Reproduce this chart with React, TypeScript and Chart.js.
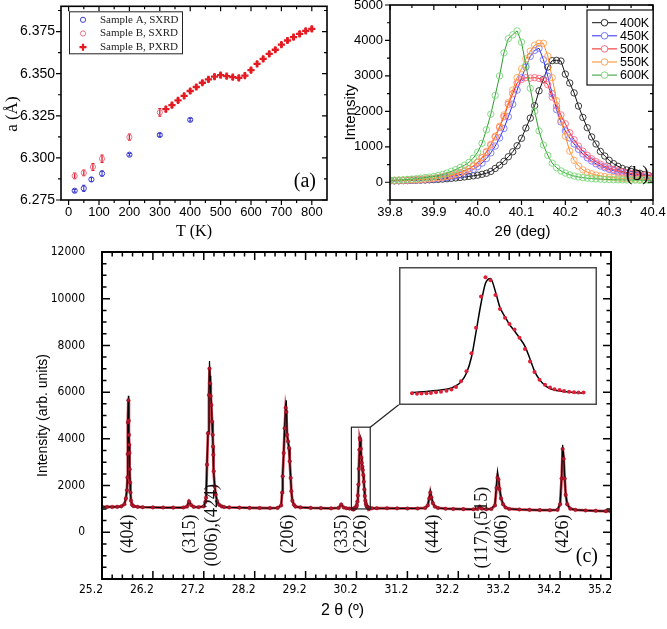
import React, { useEffect, useRef } from 'react';
import { Chart, registerables } from 'chart.js';

Chart.register(...registerables);

const SANS = '"Liberation Sans", Arial, Helvetica, sans-serif';
const SERIF = '"Liberation Serif", "Times New Roman", Times, serif';
const COND = '"DejaVu Sans Condensed", "Liberation Sans Narrow", "Liberation Sans", Arial, sans-serif';

/* ---------------- panel (a): lattice parameter vs T ---------------- */
const tempTicks = [0, 100, 200, 300, 400, 500, 600, 700, 800];
const latticeTicks = [6.275, 6.3, 6.325, 6.35, 6.375];

const sampleASxrdT = [20, 50, 75, 110, 200, 300, 400];
const sampleASxrdA = [6.2805, 6.2819, 6.2872, 6.2907, 6.3019, 6.3136, 6.3226];
const sampleASxrdErr = [0.0008, 0.0018, 0.0012, 0.0016, 0.0008, 0.0008, 0.0008];

const sampleBSxrdT = [20, 50, 80, 110, 200, 300];
const sampleBSxrdA = [6.2893, 6.2911, 6.2946, 6.2995, 6.3123, 6.327];
const sampleBSxrdErr = [0.0016, 0.0016, 0.002, 0.0022, 0.0018, 0.0022];

const sampleBPxrdT = [320, 340, 360, 380, 400, 420, 440, 460, 480, 500, 520, 540, 560, 580, 600, 620, 640, 660, 680, 700, 720, 740, 760, 780, 800];
const sampleBPxrdA = [6.3289, 6.3313, 6.3342, 6.3368, 6.3397, 6.3421, 6.3446, 6.3466, 6.3482, 6.3491, 6.3485, 6.3479, 6.3475, 6.3489, 6.3521, 6.3558, 6.3588, 6.3617, 6.3642, 6.3672, 6.3697, 6.3717, 6.3736, 6.3754, 6.3766];
const sampleBPxrdErr = [0.0014, 0.0012, 0.0012, 0.0012, 0.0012, 0.0012, 0.0012, 0.0012, 0.0012, 0.0012, 0.0012, 0.0012, 0.0012, 0.0012, 0.0012, 0.0012, 0.0012, 0.0012, 0.0012, 0.0012, 0.0012, 0.0012, 0.0012, 0.0012, 0.0012];

/* ---------------- panel (b): peak profiles ---------------- */
const peakTicksX = [39.8, 39.9, 40.0, 40.1, 40.2, 40.3, 40.4];
const peakTicksY = [0, 1000, 2000, 3000, 4000, 5000];
const peakTheta = [39.8, 39.81, 39.82, 39.83, 39.84, 39.85, 39.86, 39.87, 39.88, 39.89, 39.9, 39.91, 39.92, 39.93, 39.94, 39.95, 39.96, 39.97, 39.98, 39.99, 40, 40.01, 40.02, 40.03, 40.04, 40.05, 40.06, 40.07, 40.08, 40.09, 40.1, 40.11, 40.12, 40.13, 40.14, 40.15, 40.16, 40.17, 40.18, 40.19, 40.2, 40.21, 40.22, 40.23, 40.24, 40.25, 40.26, 40.27, 40.28, 40.29, 40.3, 40.31, 40.32, 40.33, 40.34, 40.35, 40.36, 40.37, 40.38, 40.39, 40.4];
const int400K = [40, 42, 44, 47, 50, 53, 57, 61, 65, 70, 75, 82, 90, 100, 110, 122, 135, 150, 165, 182, 200, 225, 255, 305, 390, 480, 590, 720, 860, 1030, 1240, 1530, 1810, 2160, 2580, 2900, 3250, 3430, 3440, 3420, 3050, 2800, 2520, 2150, 1830, 1540, 1280, 1080, 870, 740, 620, 525, 450, 390, 347, 305, 275, 253, 215, 190, 170];
const int450K = [40, 42, 45, 48, 52, 56, 61, 67, 74, 82, 92, 104, 118, 135, 155, 180, 210, 250, 300, 360, 440, 540, 670, 830, 1020, 1250, 1520, 1850, 2200, 2600, 2950, 3250, 3550, 3720, 3780, 3460, 2990, 2500, 2050, 1700, 1450, 1250, 1080, 930, 800, 690, 600, 520, 460, 410, 365, 325, 290, 260, 235, 210, 190, 170, 150, 130, 115];
const int500K = [45, 48, 52, 56, 60, 66, 72, 80, 88, 100, 112, 128, 148, 170, 200, 235, 275, 320, 380, 460, 560, 690, 850, 1050, 1280, 1550, 1850, 2200, 2500, 2800, 2900, 2950, 2940, 2950, 2930, 2880, 2750, 2400, 2150, 1900, 1650, 1400, 1200, 1020, 880, 760, 660, 580, 510, 450, 400, 360, 325, 295, 270, 250, 230, 212, 195, 180, 165];
const int550K = [50, 52, 55, 58, 62, 67, 73, 80, 88, 98, 110, 125, 145, 168, 195, 230, 270, 320, 385, 465, 570, 700, 870, 1070, 1300, 1580, 1900, 2250, 2600, 2950, 3200, 3480, 3700, 3870, 3920, 3920, 3560, 2950, 2300, 1750, 1300, 880, 620, 460, 350, 285, 240, 205, 180, 160, 145, 132, 120, 110, 102, 95, 90, 85, 80, 77, 75];
const int600K = [55, 60, 65, 70, 80, 90, 100, 115, 130, 145, 165, 190, 220, 260, 310, 360, 420, 480, 560, 680, 850, 1100, 1480, 1920, 2450, 3000, 3650, 4050, 4160, 4270, 3950, 3300, 2650, 2000, 1450, 1050, 760, 540, 410, 320, 260, 210, 175, 150, 130, 115, 105, 95, 88, 82, 78, 74, 70, 67, 64, 62, 60, 58, 57, 56, 55];

const seriesB = [
  { label: '400K', values: int400K, line: '#111111', marker: '#2a2a2a' },
  { label: '450K', values: int450K, line: '#2b2bf0', marker: '#7474ff' },
  { label: '500K', values: int500K, line: '#f01e1e', marker: '#ff6a88' },
  { label: '550K', values: int550K, line: '#ff8a1e', marker: '#ffa45c' },
  { label: '600K', values: int600K, line: '#2e9e2e', marker: '#78d878' },
];

/* ---------------- panel (c): powder pattern ---------------- */
const patternTicksX = [25.2, 26.2, 27.2, 28.2, 29.2, 30.2, 31.2, 32.2, 33.2, 34.2, 35.2];
const patternTicksY = [0, 2000, 4000, 6000, 8000, 10000, 12000];
const patternTheta = [
  25.2, 25.3, 25.4, 25.5, 25.58, 25.64, 25.67, 25.69, 25.7, 25.705, 25.71, 25.718, 25.725, 25.73, 25.735, 25.74, 25.745, 25.752, 25.76, 25.77, 25.79, 25.82, 25.9,
  26.0, 26.2, 26.4, 26.6, 26.8, 26.87, 26.91, 26.95,
  27.0, 27.1, 27.2, 27.23, 27.245, 27.263, 27.283, 27.302, 27.312, 27.322, 27.336, 27.349, 27.362, 27.375, 27.381, 27.388, 27.395, 27.414, 27.434, 27.46, 27.5, 27.55, 27.6, 27.7, 27.9,
  28.1, 28.3, 28.5, 28.65, 28.72, 28.74, 28.75, 28.77, 28.789, 28.809, 28.822, 28.835, 28.855, 28.874, 28.888, 28.907, 28.92, 28.94, 28.97,
  29.0, 29.1, 29.3, 29.5, 29.7, 29.85, 29.9, 29.95,
  30.0, 30.06,
  30.118, 30.128, 30.137, 30.147, 30.156, 30.166, 30.176, 30.187, 30.197, 30.206, 30.216, 30.227, 30.237, 30.246, 30.256, 30.265, 30.275, 30.285, 30.294, 30.304, 30.313, 30.323, 30.333, 30.344, 30.354, 30.363, 30.373, 30.384, 30.394, 30.403, 30.413, 30.422, 30.432, 30.442, 30.451, 30.461,
  30.5, 30.6, 30.8, 31.0, 31.2, 31.4, 31.55, 31.6, 31.63, 31.65, 31.67, 31.7, 31.74, 31.8, 31.95,
  32.1, 32.3, 32.5, 32.58, 32.62, 32.66, 32.75, 32.85, 32.92, 32.95, 32.97, 32.99,
  33.01, 33.04, 33.08, 33.13, 33.2, 33.4, 33.6, 33.8,
  34.0, 34.15, 34.2, 34.23, 34.25, 34.27, 34.29, 34.31, 34.34, 34.4, 34.5, 34.7, 34.9,
  35.1, 35.2,
];
const patternObs = [
  1090, 1085, 1085, 1090, 1110, 1200, 1450, 1800, 2350, 3350, 4700, 5650, 4780, 4170, 3750, 3400, 2700, 2130, 1700, 1350, 1180, 1120, 1090,
  1075, 1065, 1060, 1055, 1060, 1100, 1320, 1170,
  1090, 1075, 1110, 1300, 1480, 2895, 4242, 5873, 7007, 6380, 5830, 5448, 4739, 4170, 3675, 3320, 2610, 1973, 1619, 1335, 1180, 1110, 1080, 1065, 1055,
  1045, 1040, 1035, 1045, 1150, 1700, 2400, 3390, 4454, 5334, 5150, 4171, 3888, 3604, 3037, 2328, 1761, 1350, 1180,
  1100, 1065, 1045, 1035, 1025, 1045, 1190, 1060,
  1030, 1015,
  1004, 988, 996, 1004, 1012, 1028, 1045, 1069, 1102, 1167, 1314, 1575, 2047, 2716, 3531, 4037, 3955, 3572, 3205, 2977, 2814, 2667, 2455, 2162, 1835, 1558, 1354, 1224, 1151, 1110, 1085, 1061, 1045, 1028, 1020, 1020,
  1030, 1030, 1030, 1025, 1020, 1020, 1040, 1150, 1450, 1700, 1500, 1250, 1100, 1040, 1010,
  1000, 990, 985, 1000, 1100, 1010, 990, 1000, 1150, 1900, 2337, 2250,
  1850, 1450, 1200, 1060, 1000, 975, 960, 950,
  945, 960, 1200, 2300, 3568, 3150, 2300, 1600, 1200, 1010, 960, 935, 920,
  905, 900,
];
const patternCalc = [
  1090, 1085, 1085, 1090, 1110, 1210, 1480, 1850, 2400, 3400, 4800, 5850, 4950, 4250, 3780, 3400, 2750, 2150, 1700, 1360, 1190, 1120, 1090,
  1075, 1065, 1060, 1055, 1060, 1110, 1340, 1170,
  1090, 1075, 1110, 1300, 1500, 2950, 4300, 6000, 7330, 6700, 5900, 5450, 4750, 4170, 3700, 3300, 2650, 2000, 1620, 1340, 1180, 1110, 1080, 1065, 1055,
  1045, 1040, 1035, 1045, 1160, 1750, 2450, 3450, 4500, 5450, 5650, 4300, 3900, 3600, 3050, 2350, 1780, 1360, 1180,
  1100, 1065, 1045, 1035, 1025, 1050, 1210, 1060,
  1030, 1020,
  1020, 1030, 1040, 1050, 1061, 1075, 1090, 1110, 1140, 1200, 1300, 1534, 1950, 2600, 3350, 3880, 4004, 3654, 3246, 3001, 2800, 2630, 2450, 2230, 1900, 1580, 1360, 1210, 1126, 1085, 1061, 1045, 1035, 1020, 1012, 1004,
  1025, 1030, 1030, 1025, 1020, 1020, 1040, 1160, 1500, 1770, 1550, 1260, 1100, 1040, 1010,
  1000, 990, 985, 1000, 1100, 1010, 990, 1000, 1200, 2000, 2620, 2350,
  1900, 1480, 1200, 1060, 1000, 975, 960, 950,
  945, 960, 1220, 2400, 3744, 3300, 2350, 1620, 1200, 1010, 960, 935, 920,
  905, 900,
];

const hklLabels = ['(404)', '(315)', '(006),(424)', '(206)', '(335)', '(226)', '(444)', '(117),(515)', '(406)', '(426)'];
const hklTheta = [25.72, 26.94, 27.36, 28.86, 29.93, 30.29, 31.7, 32.68, 33.06, 34.27];
const hklCenterCounts = [-70, -70, 300, -70, -70, -70, -70, 200, -70, -70];

// zoom window around the (226) reflection and the inset placed on the plot
const zoomRectTheta = [30.1, 30.47];
const zoomRectCounts = [1000, 4500];
const insetBoxTheta = [31.03, 34.92];
const insetBoxCounts = [5460, 11370];
const insetRangeTheta = [30.1, 30.48];
const insetRangeCounts = [800, 4200];

/* ---------------- helpers ---------------- */
const pts = (xs: number[], ys: number[]) => xs.map((x, i) => ({ x, y: ys[i] }));

function minorTicks(from: number, to: number, step: number, majors: number[]) {
  const out: number[] = [];
  const n = Math.round((to - from) / step);
  for (let i = 0; i <= n; i++) {
    const v = Math.round((from + i * step) * 1e6) / 1e6;
    if (!majors.some((m) => Math.abs(m - v) < step / 10)) out.push(v);
  }
  return out;
}

const fitAxis = (w: number | null, h: number | null) => (s: any) => {
  if (w !== null) s.width = w;
  if (h !== null) s.height = h;
  s.paddingTop = 0;
  s.paddingBottom = 0;
  s.paddingLeft = 0;
  s.paddingRight = 0;
};

function axis(o: any) {
  return {
    type: 'linear',
    min: o.min,
    max: o.max,
    afterFit: fitAxis(o.w ?? null, o.h ?? null),
    afterBuildTicks: (s: any) => {
      s.ticks = o.ticks.map((v: number) => ({ value: v }));
    },
    grid: { display: false, drawTicks: false },
    border: { display: false },
    title: { display: false },
    ticks: {
      color: '#000',
      font: o.font,
      padding: o.pad,
      maxRotation: 0,
      minRotation: 0,
      autoSkip: false,
      labelOffset: o.labelOffset || 0,
      callback: o.cb,
    },
  };
}

function framePlugin(o: any) {
  return {
    id: 'frame',
    afterDatasetsDraw(chart: any) {
      const { ctx, chartArea: a, scales } = chart;
      const sx = scales.x;
      const sy = scales.y;
      ctx.save();
      ctx.strokeStyle = '#000';
      ctx.lineWidth = o.tickLw;
      ctx.beginPath();
      const seg = (x1: number, y1: number, x2: number, y2: number) => {
        ctx.moveTo(x1, y1);
        ctx.lineTo(x2, y2);
      };
      const xs = (vals: number[], len: number) =>
        vals.forEach((v) => {
          const p = sx.getPixelForValue(v);
          seg(p, a.bottom, p, o.outBottom ? a.bottom + len : a.bottom - len);
          seg(p, a.top, p, a.top + len);
        });
      const ys = (vals: number[], len: number) =>
        vals.forEach((v) => {
          const p = sy.getPixelForValue(v);
          seg(a.left, p, o.outLeft ? a.left - len : a.left + len, p);
          seg(a.right, p, a.right - len, p);
        });
      xs(o.xMajor, o.major);
      xs(o.xMinor, o.minor);
      ys(o.yMajor, o.major);
      ys(o.yMinor, o.minor);
      ctx.stroke();
      ctx.lineWidth = o.lw;
      ctx.strokeRect(a.left, a.top, a.right - a.left, a.bottom - a.top);
      ctx.restore();
    },
  };
}

function titlesPlugin(o: any) {
  return {
    id: 'titles',
    afterDraw(chart: any) {
      const { ctx, chartArea: a } = chart;
      ctx.save();
      ctx.fillStyle = '#000';
      ctx.textAlign = 'center';
      ctx.textBaseline = 'middle';
      ctx.font = o.xFont;
      ctx.fillText(o.xText, (a.left + a.right) / 2 + o.xDx, o.xY);
      ctx.translate(o.yX, (a.top + a.bottom) / 2 + o.yDy);
      ctx.rotate(-Math.PI / 2);
      ctx.font = o.yFont;
      ctx.fillText(o.yText, 0, 0);
      ctx.restore();
      if (o.tag) {
        ctx.save();
        ctx.fillStyle = '#000';
        ctx.font = o.tagFont;
        ctx.textAlign = 'right';
        ctx.textBaseline = 'middle';
        ctx.fillText(o.tag, a.right - o.tagDx, a.bottom - o.tagDy);
        ctx.restore();
      }
    },
  };
}

const errorBarPlugin = {
  id: 'errorBars',
  beforeDatasetsDraw(chart: any) {
    const { ctx } = chart;
    const sy = chart.scales.y;
    chart.data.datasets.forEach((ds: any, i: number) => {
      if (!ds.errorBars) return;
      const meta = chart.getDatasetMeta(i);
      ctx.save();
      ctx.strokeStyle = ds.errorColor;
      ctx.lineWidth = ds.errorWidth || 1.2;
      ctx.beginPath();
      meta.data.forEach((el: any, j: number) => {
        const v = ds.data[j].y;
        const y1 = sy.getPixelForValue(v + ds.errorBars[j]);
        const y2 = sy.getPixelForValue(v - ds.errorBars[j]);
        ctx.moveTo(el.x, y1);
        ctx.lineTo(el.x, y2);
        ctx.moveTo(el.x - 1.5, y1);
        ctx.lineTo(el.x + 1.5, y1);
        ctx.moveTo(el.x - 1.5, y2);
        ctx.lineTo(el.x + 1.5, y2);
      });
      ctx.stroke();
      ctx.restore();
    });
  },
};

const legendAPlugin = {
  id: 'legendA',
  afterDraw(chart: any) {
    const { ctx, chartArea: a } = chart;
    const L = a.left + 8;
    const T = a.top + 5;
    const W = 113;
    const H = 42;
    ctx.save();
    ctx.fillStyle = '#fff';
    ctx.fillRect(L, T, W, H);
    ctx.strokeStyle = '#222';
    ctx.lineWidth = 1;
    ctx.strokeRect(L + 0.5, T + 0.5, W, H);
    chart.data.datasets.forEach((ds: any, i: number) => {
      const y = T + 8.5 + i * 13.7;
      const mx = L + 14;
      ctx.beginPath();
      if (ds.pointStyle === 'cross') {
        ctx.strokeStyle = ds.pointBorderColor;
        ctx.lineWidth = 2.2;
        ctx.moveTo(mx - 3.5, y);
        ctx.lineTo(mx + 3.5, y);
        ctx.moveTo(mx, y - 3.5);
        ctx.lineTo(mx, y + 3.5);
        ctx.stroke();
      } else {
        ctx.strokeStyle = ds.pointBorderColor;
        ctx.lineWidth = 1;
        ctx.arc(mx, y, 2.6, 0, Math.PI * 2);
        ctx.stroke();
      }
      ctx.fillStyle = '#222';
      ctx.font = `11px ${SERIF}`;
      ctx.textAlign = 'left';
      ctx.textBaseline = 'middle';
      ctx.fillText(ds.label, L + 31, y);
    });
    ctx.restore();
  },
};

const legendBPlugin = {
  id: 'legendB',
  afterDraw(chart: any) {
    const { ctx, chartArea: a } = chart;
    const W = 66;
    const H = 75;
    const L = a.right - W;
    const T = a.top + 5;
    ctx.save();
    ctx.fillStyle = '#fff';
    ctx.fillRect(L, T, W, H);
    ctx.strokeStyle = '#111';
    ctx.lineWidth = 1.2;
    ctx.strokeRect(L, T, W, H);
    seriesB.forEach((s, i) => {
      const y = T + 12.7 + i * 13.1;
      ctx.strokeStyle = s.line;
      ctx.lineWidth = 1;
      ctx.beginPath();
      ctx.moveTo(L + 5, y);
      ctx.lineTo(L + 30, y);
      ctx.stroke();
      ctx.fillStyle = '#fff';
      ctx.strokeStyle = s.marker;
      ctx.beginPath();
      ctx.arc(L + 17.5, y, 3.3, 0, Math.PI * 2);
      ctx.fill();
      ctx.stroke();
      ctx.fillStyle = '#000';
      ctx.font = `12.5px ${SANS}`;
      ctx.textAlign = 'left';
      ctx.textBaseline = 'middle';
      ctx.fillText(s.label, L + 33, y + 0.5);
    });
    ctx.restore();
  },
};

const hklPlugin = {
  id: 'hkl',
  afterDatasetsDraw(chart: any) {
    const { ctx, scales } = chart;
    ctx.save();
    ctx.fillStyle = '#111';
    ctx.font = `18px ${SERIF}`;
    ctx.textAlign = 'center';
    ctx.textBaseline = 'middle';
    hklLabels.forEach((t, i) => {
      const x = scales.x.getPixelForValue(hklTheta[i]);
      const y = scales.y.getPixelForValue(hklCenterCounts[i]);
      ctx.save();
      ctx.translate(x, y);
      ctx.rotate(-Math.PI / 2);
      ctx.fillText(t, 0, 0);
      ctx.restore();
    });
    ctx.restore();
  },
};

const zoomBoxPlugin = {
  id: 'zoomBox',
  afterDatasetsDraw(chart: any) {
    const { ctx, scales } = chart;
    const sx = scales.x;
    const sy = scales.y;
    const l = sx.getPixelForValue(zoomRectTheta[0]);
    const r = sx.getPixelForValue(zoomRectTheta[1]);
    const t = sy.getPixelForValue(zoomRectCounts[1]);
    const b = sy.getPixelForValue(zoomRectCounts[0]);
    ctx.save();
    ctx.strokeStyle = '#222';
    ctx.lineWidth = 1.2;
    ctx.strokeRect(l, t, r - l, b - t);
    ctx.beginPath();
    ctx.moveTo(r, t);
    ctx.lineTo(sx.getPixelForValue(insetBoxTheta[0]), sy.getPixelForValue(insetBoxCounts[0]));
    ctx.stroke();
    ctx.restore();
  },
};

const baseOptions = {
  animation: false,
  responsive: false,
  maintainAspectRatio: false,
  events: [],
  plugins: { legend: { display: false }, tooltip: { enabled: false } },
};

/* ---------------- builders ---------------- */
function buildA(canvas: HTMLCanvasElement) {
  const BLUE = '#3b3bd2';
  const PINK = '#e8708a';
  const RED = '#e41a22';
  return new Chart(canvas, {
    type: 'scatter',
    data: {
      datasets: [
        {
          label: 'Sample A, SXRD',
          data: pts(sampleASxrdT, sampleASxrdA),
          pointStyle: 'circle',
          pointRadius: 2.6,
          pointBorderWidth: 1,
          pointBorderColor: BLUE,
          pointBackgroundColor: 'rgba(255,255,255,0)',
          errorBars: sampleASxrdErr,
          errorColor: BLUE,
          errorWidth: 1.1,
        },
        {
          label: 'Sample B, SXRD',
          data: pts(sampleBSxrdT, sampleBSxrdA),
          pointStyle: 'circle',
          pointRadius: 2.6,
          pointBorderWidth: 1,
          pointBorderColor: PINK,
          pointBackgroundColor: 'rgba(255,255,255,0)',
          errorBars: sampleBSxrdErr,
          errorColor: RED,
          errorWidth: 1.3,
        },
        {
          label: 'Sample B, PXRD',
          data: pts(sampleBPxrdT, sampleBPxrdA),
          pointStyle: 'cross',
          pointRadius: 3.6,
          pointBorderWidth: 2.3,
          pointBorderColor: RED,
          pointBackgroundColor: RED,
          errorBars: sampleBPxrdErr,
          errorColor: RED,
          errorWidth: 1.6,
        },
      ],
    } as any,
    options: {
      ...baseOptions,
      layout: { padding: { left: 0, top: 5, right: 8, bottom: 0 } },
      scales: {
        x: axis({ min: -25, max: 850, h: 42, ticks: tempTicks, font: { family: SANS, size: 13 }, pad: 5, cb: (v: number) => String(v) }),
        y: axis({ min: 6.275, max: 6.39, w: 61, ticks: latticeTicks, font: { family: SANS, size: 14 }, pad: 6, cb: (v: number) => v.toFixed(3) }),
      },
    } as any,
    plugins: [
      errorBarPlugin,
      framePlugin({
        lw: 1.6, tickLw: 1.2, major: 5, minor: 3, outLeft: true, outBottom: true,
        xMajor: tempTicks, xMinor: minorTicks(0, 800, 50, tempTicks),
        yMajor: latticeTicks, yMinor: minorTicks(6.275, 6.3875, 0.0125, latticeTicks),
      }),
      legendAPlugin,
      titlesPlugin({
        xText: 'T (K)', xFont: `16px ${SERIF}`, xDx: 0, xY: 232,
        yText: 'a (Å)', yFont: `17px ${SERIF}`, yX: 12.5, yDy: 11,
        tag: '(a)', tagFont: `20px ${SERIF}`, tagDx: 11, tagDy: 18,
      }),
    ] as any,
  });
}

function buildB(canvas: HTMLCanvasElement) {
  const datasets = [...seriesB].reverse().map((s) => ({
    label: s.label,
    data: pts(peakTheta, s.values),
    showLine: true,
    borderColor: s.line,
    borderWidth: 1,
    pointStyle: 'circle',
    pointRadius: 3.2,
    pointBorderWidth: 0.9,
    pointBorderColor: s.marker,
    pointBackgroundColor: 'rgba(255,255,255,0)',
  }));
  return new Chart(canvas, {
    type: 'scatter',
    data: { datasets } as any,
    options: {
      ...baseOptions,
      layout: { padding: { left: 0, top: 5, right: 14, bottom: 0 } },
      scales: {
        x: axis({ min: 39.8, max: 40.4, h: 42, ticks: peakTicksX, font: { family: SANS, size: 13 }, pad: 5, cb: (v: number) => v.toFixed(1) }),
        y: axis({ min: -500, max: 5000, w: 55, ticks: peakTicksY, font: { family: SANS, size: 13 }, pad: 7, cb: (v: number) => String(v) }),
      },
    } as any,
    plugins: [
      framePlugin({
        lw: 1.6, tickLw: 1.2, major: 5, minor: 3, outLeft: true, outBottom: true,
        xMajor: peakTicksX, xMinor: minorTicks(39.8, 40.4, 0.05, peakTicksX),
        yMajor: peakTicksY, yMinor: minorTicks(-500, 5000, 500, peakTicksY),
      }),
      legendBPlugin,
      titlesPlugin({
        xText: '2θ (deg)', xFont: `15px ${SANS}`, xDx: 1, xY: 232,
        yText: 'Intensity', yFont: `15px ${SANS}`, yX: 16, yDy: 10,
        tag: '(b)', tagFont: `20px ${SERIF}`, tagDx: 4, tagDy: 25,
      }),
    ] as any,
  });
}

const C_TOP = 242;

function buildC(canvas: HTMLCanvasElement) {
  const obs = pts(patternTheta, patternObs);
  const calc = pts(patternTheta, patternCalc);
  const yMajorAll = [-2000, ...patternTicksY];
  return new Chart(canvas, {
    type: 'scatter',
    data: {
      datasets: [
        {
          label: 'observed',
          data: obs,
          showLine: false,
          pointRadius: 1.8,
          pointBackgroundColor: '#b8142a',
          pointBorderColor: '#700a16',
          pointBorderWidth: 0.4,
        },
        {
          label: 'calculated',
          data: calc,
          showLine: true,
          borderColor: '#000',
          borderWidth: 1.2,
          pointRadius: 0,
        },
        {
          label: 'observed band',
          data: obs,
          showLine: true,
          borderColor: 'rgba(196,26,44,0.85)',
          borderWidth: 2.8,
          pointRadius: 0,
        },
      ],
    } as any,
    options: {
      ...baseOptions,
      layout: { padding: { left: 0, top: 10, right: 56, bottom: 0 } },
      scales: {
        x: axis({ min: 25.2, max: 35.2, h: 50, ticks: patternTicksX, font: { family: COND, size: 12 }, pad: 4, labelOffset: -11, cb: (v: number) => v.toFixed(1) }),
        y: axis({ min: -2000, max: 12000, w: 102, ticks: patternTicksY, font: { family: COND, size: 12 }, pad: 17, cb: (v: number) => String(v) }),
      },
    } as any,
    plugins: [
      framePlugin({
        lw: 2, tickLw: 1.5, major: 8, minor: 4.5, outLeft: false, outBottom: false,
        xMajor: patternTicksX, xMinor: minorTicks(25.2, 35.2, 0.2, patternTicksX),
        yMajor: yMajorAll, yMinor: minorTicks(-2000, 12000, 500, yMajorAll),
      }),
      hklPlugin,
      zoomBoxPlugin,
      titlesPlugin({
        xText: '2 θ (º)', xFont: `16px ${SANS}`, xDx: -14, xY: 369,
        yText: 'Intensity (arb. units)', yFont: `14px ${SANS}`, yX: 43, yDy: 0,
        tag: '(c)', tagFont: `20px ${SERIF}`, tagDx: 13, tagDy: 22,
      }),
    ] as any,
  });
}

function buildInset(canvas: HTMLCanvasElement) {
  const keep = patternTheta
    .map((t, i) => i)
    .filter((i) => patternTheta[i] >= insetRangeTheta[0] && patternTheta[i] <= insetRangeTheta[1]);
  const obs = keep.map((i) => ({ x: patternTheta[i], y: patternObs[i] }));
  const calc = keep.map((i) => ({ x: patternTheta[i], y: patternCalc[i] }));
  const framing = {
    id: 'insetFrame',
    beforeDraw(chart: any) {
      const { ctx, width, height } = chart;
      ctx.save();
      ctx.fillStyle = '#fff';
      ctx.fillRect(0, 0, width, height);
      ctx.restore();
    },
    afterDraw(chart: any) {
      const { ctx, width, height } = chart;
      ctx.save();
      ctx.strokeStyle = '#4a4a4a';
      ctx.lineWidth = 1.5;
      ctx.strokeRect(0.75, 0.75, width - 1.5, height - 1.5);
      ctx.restore();
    },
  };
  return new Chart(canvas, {
    type: 'scatter',
    data: {
      datasets: [
        {
          label: 'observed',
          data: obs,
          showLine: false,
          pointRadius: 2,
          pointBorderWidth: 0,
          pointBackgroundColor: '#dc2038',
        },
        {
          label: 'calculated',
          data: calc,
          showLine: true,
          borderColor: '#000',
          borderWidth: 1.5,
          cubicInterpolationMode: 'monotone',
          pointRadius: 0,
        },
      ],
    } as any,
    options: {
      ...baseOptions,
      layout: { padding: 0 },
      scales: {
        x: { type: 'linear', display: false, min: insetRangeTheta[0], max: insetRangeTheta[1] },
        y: { type: 'linear', display: false, min: insetRangeCounts[0], max: insetRangeCounts[1] },
      },
    } as any,
    plugins: [framing] as any,
  });
}

export default function App() {
  const refA = useRef<HTMLCanvasElement>(null);
  const refB = useRef<HTMLCanvasElement>(null);
  const refC = useRef<HTMLCanvasElement>(null);
  const refI = useRef<HTMLCanvasElement>(null);

  useEffect(() => {
    const charts: Chart[] = [];
    charts.push(buildA(refA.current as HTMLCanvasElement));
    charts.push(buildB(refB.current as HTMLCanvasElement));
    const c = buildC(refC.current as HTMLCanvasElement);
    charts.push(c);

    const sx: any = c.scales.x;
    const sy: any = c.scales.y;
    const L = Math.round(sx.getPixelForValue(insetBoxTheta[0]));
    const R = Math.round(sx.getPixelForValue(insetBoxTheta[1]));
    const T = Math.round(sy.getPixelForValue(insetBoxCounts[1]));
    const B = Math.round(sy.getPixelForValue(insetBoxCounts[0]));
    const el = refI.current as HTMLCanvasElement;
    el.width = R - L;
    el.height = B - T;
    el.style.left = `${L}px`;
    el.style.top = `${C_TOP + T}px`;
    el.style.width = `${R - L}px`;
    el.style.height = `${B - T}px`;
    charts.push(buildInset(el));

    return () => charts.forEach((ch) => ch.destroy());
  }, []);

  return (
    <div style={{ position: 'absolute', left: 0, top: 0, width: 667, height: 629, background: '#fff', overflow: 'hidden' }}>
      <canvas ref={refA} width={335} height={242} style={{ position: 'absolute', left: 0, top: 0 }} />
      <canvas ref={refB} width={332} height={242} style={{ position: 'absolute', left: 335, top: 0 }} />
      <canvas ref={refC} width={667} height={387} style={{ position: 'absolute', left: 0, top: C_TOP }} />
      <canvas ref={refI} style={{ position: 'absolute', left: 0, top: 0 }} />
    </div>
  );
}
